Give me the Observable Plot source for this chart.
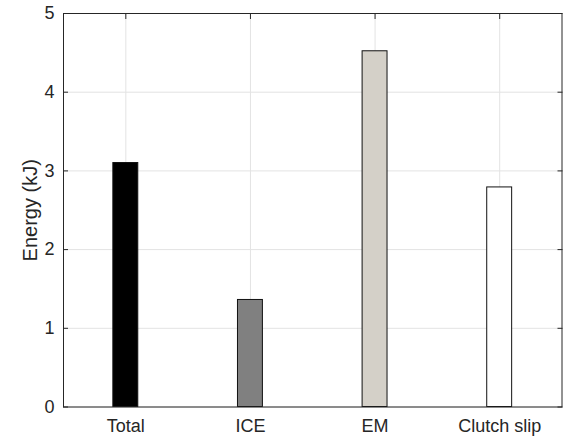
<!DOCTYPE html>
<html>
<head>
<meta charset="utf-8">
<script src="https://cdn.jsdelivr.net/npm/d3@7"></script>
<script src="https://cdn.jsdelivr.net/npm/@observablehq/plot@0.6"></script>
<style>
  html, body { margin: 0; padding: 0; background: #fff; }
  #chart { width: 570px; height: 439px; }
</style>
</head>
<body>
<div id="chart"></div>
<script>
const categories = ["Total", "ICE", "EM", "Clutch slip"];
const energies = [3.1, 1.36, 4.52, 2.79];
const barColors = ["#000000", "#808080", "#d4d0c8", "#ffffff"];
const yTicks = [0, 1, 2, 3, 4, 5];
const xTicks = [1, 2, 3, 4];
const yLabel = "Energy (kJ)";

const data = categories.map((c, i) => ({pos: i + 1, name: c, value: energies[i], color: barColors[i]}));
const halfWidth = 0.1;
const ink = "#262626";
const grid = "#e3e3e3";

const chart = Plot.plot({
  width: 570,
  height: 439,
  marginLeft: 63,
  marginRight: 8.5,
  marginTop: 13,
  marginBottom: 32.5,
  style: {fontFamily: "'Liberation Sans', Arial, Helvetica, sans-serif", fontSize: "18px", color: ink, background: "#fff"},
  x: {domain: [0.5, 4.5], ticks: xTicks, label: null},
  y: {domain: [0, 5], ticks: yTicks, label: null},
  color: {type: "identity"},
  marks: [
    Plot.ruleY(yTicks, {stroke: grid, strokeWidth: 1}),
    Plot.ruleX(xTicks, {stroke: grid, strokeWidth: 1}),
    Plot.axisY({anchor: "left", ticks: yTicks, tickSize: -5, tickPadding: 14, tickFormat: d => String(d), label: null, stroke: ink, fill: ink}),
    Plot.axisY({anchor: "right", ticks: yTicks, tickSize: -5, label: null, stroke: ink, fill: "none"}),
    Plot.axisX({anchor: "bottom", ticks: xTicks, tickSize: -5, tickPadding: 17, tickFormat: d => categories[d - 1], label: null, stroke: ink, fill: ink}),
    Plot.axisX({anchor: "top", ticks: xTicks, tickSize: -5, label: null, stroke: ink, fill: "none"}),
    Plot.rectY(data, {x1: d => d.pos - halfWidth, x2: d => d.pos + halfWidth, y1: 0, y2: "value", fill: "color", stroke: "#111", strokeWidth: 1}),
    Plot.frame({stroke: ink, strokeWidth: 1}),
    Plot.text([yLabel], {frameAnchor: "left", textAnchor: "middle", lineAnchor: "middle", rotate: -90, dx: -33, fontSize: 20, fill: ink})
  ]
});
document.getElementById("chart").appendChild(chart);
</script>
</body>
</html>
